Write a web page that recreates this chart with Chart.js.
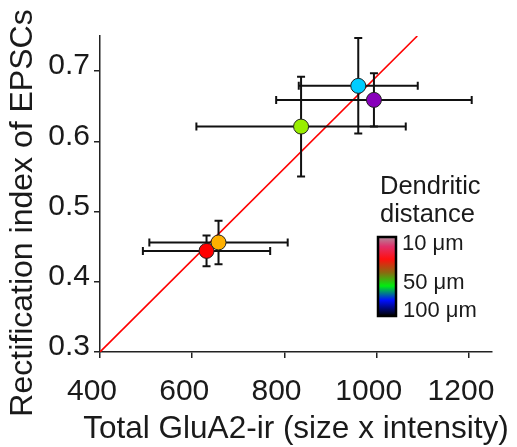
<!DOCTYPE html>
<html>
<head>
<meta charset="utf-8">
<script src="https://cdn.jsdelivr.net/npm/chart.js@4.4.1/dist/chart.umd.min.js"></script>
<style>
  body { margin: 0; background: #fff; }
</style>
</head>
<body>
<canvas id="chart" width="517" height="447"></canvas>
<script>
// values
const glua2 = [631, 657, 836, 960, 994];
const glua2Err = [138, 150, 227, 129, 212];
const rectification = [0.444, 0.456, 0.621, 0.679, 0.659];
const rectErr = [0.022, 0.031, 0.071, 0.068, 0.038];
const pointColors = ['#ff0000', '#ffb000', '#99ee00', '#00ccff', '#8800bb'];

const fitX = [400, 1088];
const fitY = [0.3, 0.75];

const xTicks = [400, 600, 800, 1000, 1200];
const yTicks = [0.3, 0.4, 0.5, 0.6, 0.7];

const xTitle = 'Total GluA2-ir (size x intensity)';
const yTitle = 'Rectification index of EPSCs';
const legendTitle = ['Dendritic', 'distance'];
const legendLabels = ['10 \u03bcm', '50 \u03bcm', '100 \u03bcm'];

const FONT = '"Liberation Sans", Arial, sans-serif';
const INK = '#1a1a1a';

// error bars in both directions, drawn under the markers
const errorBars = {
  id: 'errorBars',
  beforeDatasetDraw(chart, args) {
    if (args.index !== 0) return;
    const {ctx, scales: {x, y}} = chart;
    ctx.save();
    ctx.strokeStyle = '#111';
    ctx.lineWidth = 2;
    const cap = 4;
    glua2.forEach((gx, i) => {
      const px = x.getPixelForValue(gx);
      const py = y.getPixelForValue(rectification[i]);
      const x0 = x.getPixelForValue(gx - glua2Err[i]);
      const x1 = x.getPixelForValue(gx + glua2Err[i]);
      const y0 = y.getPixelForValue(rectification[i] - rectErr[i]);
      const y1 = y.getPixelForValue(rectification[i] + rectErr[i]);
      ctx.beginPath();
      ctx.moveTo(x0, py); ctx.lineTo(x1, py);
      ctx.moveTo(x0, py - cap); ctx.lineTo(x0, py + cap);
      ctx.moveTo(x1, py - cap); ctx.lineTo(x1, py + cap);
      ctx.moveTo(px, y0); ctx.lineTo(px, y1);
      ctx.moveTo(px - cap, y0); ctx.lineTo(px + cap, y0);
      ctx.moveTo(px - cap, y1); ctx.lineTo(px + cap, y1);
      ctx.stroke();
    });
    ctx.restore();
  }
};

// axis titles and colour bar legend
const extras = {
  id: 'extras',
  afterDraw(chart) {
    const ctx = chart.ctx;
    ctx.save();
    ctx.fillStyle = INK;
    ctx.textAlign = 'center';
    ctx.textBaseline = 'middle';

    ctx.font = '31.5px ' + FONT;
    ctx.fillText(xTitle, 296, 429);

    ctx.translate(23, 213);
    ctx.rotate(-Math.PI / 2);
    ctx.font = '32px ' + FONT;
    ctx.fillText(yTitle, 0, 0);
    ctx.setTransform(1, 0, 0, 1, 0, 0);

    ctx.textAlign = 'left';
    ctx.font = '25.5px ' + FONT;
    ctx.fillText(legendTitle[0], 380, 187);
    ctx.fillText(legendTitle[1], 380, 215);

    const bx = 378, by = 237, bw = 18, bh = 79;
    const g = ctx.createLinearGradient(0, by, 0, by + bh);
    g.addColorStop(0, '#b08a9a');
    g.addColorStop(0.12, '#e0306a');
    g.addColorStop(0.28, '#ff1010');
    g.addColorStop(0.45, '#8a6a10');
    g.addColorStop(0.62, '#00ee10');
    g.addColorStop(0.8, '#0010ff');
    g.addColorStop(1, '#000000');
    ctx.fillStyle = g;
    ctx.fillRect(bx, by, bw, bh);
    ctx.strokeStyle = '#000';
    ctx.lineWidth = 2.5;
    ctx.strokeRect(bx, by, bw, bh);

    ctx.fillStyle = INK;
    ctx.font = '22px ' + FONT;
    ctx.fillText(legendLabels[0], 402, 244);
    ctx.fillText(legendLabels[1], 403, 283);
    ctx.fillText(legendLabels[2], 403, 311);
    ctx.restore();
  }
};

const axisGrid = {
  drawOnChartArea: false,
  drawTicks: true,
  tickLength: 6,
  color: '#222',
  lineWidth: 1.5
};

new Chart(document.getElementById('chart'), {
  data: {
    datasets: [{
      type: 'scatter',
      data: glua2.map((v, i) => ({x: v, y: rectification[i]})),
      pointRadius: 7.5,
      pointHoverRadius: 7.5,
      pointBackgroundColor: pointColors,
      pointBorderColor: '#222',
      pointBorderWidth: 1,
      order: 0
    }, {
      type: 'line',
      data: fitX.map((v, i) => ({x: v, y: fitY[i]})),
      borderColor: '#ff0000',
      borderWidth: 1.6,
      pointRadius: 0,
      fill: false,
      order: 1
    }]
  },
  options: {
    responsive: false,
    animation: false,
    events: [],
    layout: { padding: { top: 36, right: 25, left: 0, bottom: 0 } },
    plugins: { legend: { display: false }, tooltip: { enabled: false } },
    scales: {
      x: {
        type: 'linear',
        min: 400,
        max: 1250,
        afterFit: s => { s.height = 95; s.paddingLeft = 0; s.paddingRight = 0; },
        afterBuildTicks: s => { s.ticks = xTicks.map(v => ({value: v})); },
        grid: axisGrid,
        border: { display: true, color: '#222', width: 1.5 },
        ticks: {
          color: INK,
          font: { family: FONT, size: 30 },
          padding: 16,
          labelOffset: -8,
          maxRotation: 0,
          callback: v => String(v)
        }
      },
      y: {
        type: 'linear',
        min: 0.3,
        max: 0.75,
        afterFit: s => { s.width = 100; s.paddingTop = 0; s.paddingBottom = 0; },
        afterBuildTicks: s => { s.ticks = yTicks.map(v => ({value: v})); },
        grid: axisGrid,
        border: { display: true, color: '#222', width: 1.5 },
        ticks: {
          color: INK,
          font: { family: FONT, size: 30 },
          padding: 4,
          labelOffset: -5,
          callback: v => v.toFixed(1)
        }
      }
    }
  },
  plugins: [errorBars, extras]
});
</script>
</body>
</html>
